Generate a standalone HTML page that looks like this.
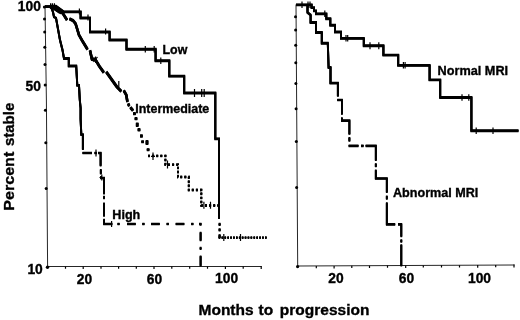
<!DOCTYPE html>
<html><head><meta charset="utf-8">
<style>
html,body{margin:0;padding:0;background:#fff;}
body{width:520px;height:320px;overflow:hidden;}
svg{display:block;filter:blur(0.35px);}
text{font-family:"Liberation Sans",Arial,Helvetica,sans-serif;font-weight:bold;fill:#000;stroke:#000;stroke-width:0.35;}
.c{fill:none;stroke:#000;stroke-width:1.95;stroke-linejoin:miter;stroke-linecap:butt;}
.ax{fill:none;stroke:#1a1a1a;stroke-width:0.95;}
.tk{fill:none;stroke:#000;stroke-width:1.2;}
</style></head><body>
<svg width="520" height="320" viewBox="0 0 520 320">
<rect width="520" height="320" fill="#fff"/>

<!-- LEFT PANEL AXES -->
<path class="ax" d="M45,6.5 L46.4,100 L47.6,266.5 L261.5,266.5"/>
<g id="lyt" fill="#000">
<ellipse cx="44.4" cy="7.0" rx="1.5" ry="1.5"/>
<ellipse cx="44.5" cy="18.9" rx="1.5" ry="1.5"/>
<ellipse cx="44.7" cy="32.1" rx="1.5" ry="1.5"/>
<ellipse cx="44.8" cy="47.2" rx="1.5" ry="1.5"/>
<ellipse cx="45.0" cy="64.6" rx="1.5" ry="1.5"/>
<ellipse cx="45.2" cy="85.1" rx="1.5" ry="1.5"/>
<ellipse cx="45.4" cy="110.3" rx="1.5" ry="1.5"/>
<ellipse cx="45.8" cy="142.7" rx="1.5" ry="1.5"/>
<ellipse cx="46.2" cy="188.4" rx="1.5" ry="1.5"/>
<circle cx="47.5" cy="267.3" r="1.7"/>
</g>
<path class="tk" d="M65.5,266.5v2.2 M83.2,266.5v2.6 M101,266.5v2.2 M118.6,266.5v2.2 M136.3,266.5v2.2 M154,266.5v2.6 M171.8,266.5v2.2 M189.7,266.5v2.2 M207.5,266.5v2.2 M225.4,266.5v2.6 M243.2,266.5v2.2 M261.2,266v3"/>

<!-- RIGHT PANEL AXES -->
<path class="ax" d="M296,4.5 L297.7,266 L514.5,265"/>
<g id="ryt" fill="#000">
<ellipse cx="295.5" cy="16.8" rx="1.5" ry="1.5"/>
<ellipse cx="295.6" cy="30.1" rx="1.5" ry="1.5"/>
<ellipse cx="295.7" cy="45.3" rx="1.5" ry="1.5"/>
<ellipse cx="295.8" cy="62.7" rx="1.5" ry="1.5"/>
<ellipse cx="295.9" cy="83.4" rx="1.5" ry="1.5"/>
<ellipse cx="296.1" cy="108.7" rx="1.5" ry="1.5"/>
<ellipse cx="296.3" cy="141.4" rx="1.5" ry="1.5"/>
<ellipse cx="296.6" cy="187.4" rx="1.5" ry="1.5"/>
<circle cx="297.6" cy="266.6" r="1.6"/>
</g>
<path class="tk" d="M316.3,266v2.2 M334.1,265.9v2.6 M351.8,265.8v2.2 M369.5,265.7v2.2 M387.5,265.6v2.2 M405.7,265.5v2.6 M423.3,265.4v2.2 M441.5,265.3v2.2 M459.5,265.2v2.2 M477.7,265.1v2.6 M495.7,265.1v2.2 M514,264.5v3"/>

<g id="cv">
<!-- LEFT CURVES -->
<!-- Low -->
<path class="c" d="M45,6.6 H56 L62,11.8 H80.6 V18 H90 V32 H109.6 V40 H126.5 V49.2 H155.6 V60.7 H169.3 V76.2 H184.2 V93 H215.3 V138.8 H219 V218.5"/>
<!-- High solid -->
<path class="c" d="M45,6.6 H51 L53,12 L54,17 L56,18 L60,40 L62.5,50 L64,58.5 H68.8 V66 H76.2 L77.3,85.4 H79 L79.8,100 L80.6,108 V119 L81.3,134.6 H82.9 V149.5"/>
<!-- High dash-dot -->
<path class="c" style="stroke-width:1.8" d="M82.5,153 H92 M94.5,153 h2.5 M98,153 H100.6 V166 M100.8,169.5 V174 M101,176.5 V178 H104 V194 M104,196.3 v2.5 M104,203 V216.2 M104.1,219.2 V224 H112.3 M117.5,224 h2.1 M127.1,224 H135.7 M142.3,224 h2.2 M151.1,224 H159.7 M166.6,224 h2.2 M175.7,224 H184.3 M191.2,224 h2.2 M199,224 H200.6 V225.2 M200.6,232.3 V240.8 M200.6,247.3 v2.2 M200.6,256 V266"/>
<!-- Intermediate -->
<path class="c" style="stroke-width:2.5;stroke-linejoin:round" d="M50.0,7.0 L55.0,7.6 L61.0,12.6 L62.0,12.0 L67.0,20.0 M69.4,18.8 L73.1,20.6 L75.6,23.8 L77.5,30.0 L79.0,35.0 L82.5,41.2 L87.5,49.4 M90.0,50.6 L92.0,59.4 L95.6,60.0 L99.4,66.3 L103.8,72.5 M106.3,72.0 L117.0,87.0 L121.3,91.3 M123.8,90.6 L126.3,95.0 L127.4,101.8 M128.2,103.8 L129.2,106 M130.4,107.4 L133.0,110.6"/>
<path d="M50,5.2 H56.3 L63.8,10.6 V13.6 L58.8,13.1 L52.5,8.8 L50,7.5 Z" fill="#000"/>
<path class="c" style="stroke-width:2.6" d="M134.4,112.5 v2.4 M136.0,117.5 v2.4 M137.2,122.9 v3.6 M139.0,128.5 v2.6 M141.4,134.7 v2.6 M142.6,140.7 v2.0 M147.0,140.5 v4.0 M148.1,148.6 v2.2"/>
<path class="c" style="stroke-dasharray:2 2.1" d="M148,155.9 H165.4 V164.6 H178 V177 H188.8 V190 H201.3 V205.5 H218.6"/>
<path class="c" d="M219.6,223.2 v2.3 M219.6,228.7 v2.3 M219.6,234.6 v3"/>
<path class="c" style="stroke-width:1.7;stroke-dasharray:1.7 1.2" d="M218.6,237.6 H266.8"/>

<!-- RIGHT CURVES -->
<!-- Normal -->
<path class="c" d="M296,4.8 H311.6 V7.6 H314 V10.8 H316 V13.8 H326.3 V18.8 H330.3 V25.3 H335 V32 H341 V38.4 H363.8 V45.7 H383.4 V55.1 H398.2 V65.4 H429.6 V79.9 H440.2 V97.5 H471.4 V130.7 H518.5"/>
<!-- Abnormal solid -->
<path class="c" d="M307.5,4.8 V12.5 L310.6,15 V22.5 H316 V32.5 H321.8 V43.2 H327.8 L328.6,67.5 H330.5 V83.1 H337.9 V96.2"/>
<!-- Abnormal dash-dot -->
<path class="c" style="stroke-width:1.8" d="M337.2,100 H341.9 V114.4 M341.9,117.8 V120.6 H349.4 V134.4 M349.4,137.5 V141.3 M348.6,145.8 H358.5 M361,145.8 h2.6 M365.6,145.8 H375.8 V160.6 M375.8,163.6 V166.9 M375.8,170 V178.5 H386.8 V192.5 M386.8,196 V199.3 M386.8,202.8 V224.4 H395.2 M398,224.4 H401.3 V236.8 M401.3,239.8 v2.4 M401.3,244.7 V266"/>

</g>
<use href="#cv" y="-0.45"/>
<use href="#cv" y="0.45"/>

<!-- censor ticks -->
<path class="tk" d="M50.6,3.2v4 M52.4,3.2v4 M54.4,3.2v4 M79.4,8.5v6 M88,14.5v6 M105.6,28.5v6 M145.3,46v6.5 M154.2,46v6.5 M160.8,57.5v6.5 M194.5,89v8 M201.7,89v8 M204.2,89v8
M93.5,57l4,5 M97.5,57l-4,5 M95.6,56.5v6.5 M118.8,81v6
M153,152.5v7.5 M151,156.3h4 M167.5,160.5v8 M203.9,201.8v7 M210.5,201.8v7
M223.8,234v7 M240.5,234v7
M96,149.5v7 M101.8,174.5v6 M99.5,177.5h5 M111.6,221v6
M302,1.5v6.5 M308,1.5v6.5 M310,1.5v6.5 M324.8,10.5v6.5 M346,35v6.5 M347.7,35v6.5 M370,42.2v7 M378.8,42.2v7 M403.4,62v6.5 M405.1,62v6.5 M462,94.2v6.5 M468.8,94.2v6.5 M476.2,127.5v6.5 M493,127.5v6.5"/>

<!-- LABELS -->
<text x="40.9" y="11.3" font-size="13.8" text-anchor="end">100</text>
<text x="40.9" y="90.7" font-size="13.8" text-anchor="end">50</text>
<text x="42.8" y="273.8" font-size="13.8" text-anchor="end">10</text>
<text x="84.4" y="284" font-size="13.8" text-anchor="middle">20</text>
<text x="154.4" y="283.6" font-size="13.8" text-anchor="middle">60</text>
<text x="226.6" y="283.4" font-size="13.8" text-anchor="middle">100</text>
<text x="336" y="283.2" font-size="13.8" text-anchor="middle">20</text>
<text x="406.5" y="283" font-size="13.8" text-anchor="middle">60</text>
<text x="479.5" y="283" font-size="13.8" text-anchor="middle">100</text>

<text x="162.5" y="53.7" font-size="12.4">Low</text>
<text x="135.3" y="112.7" font-size="12.45">Intermediate</text>
<text x="112.3" y="218.9" font-size="12.6">High</text>
<text x="437.6" y="74.6" font-size="12.7">Normal MRI</text>
<text x="393" y="196.9" font-size="12.6">Abnormal MRI</text>

<text y="315.4" font-size="15.5"><tspan x="198.5">Months</tspan> <tspan x="258.6">to</tspan> <tspan x="279.8">progression</tspan></text>
<g transform="translate(13.5,210.7) rotate(-90)" font-size="15.4"><text x="0" y="0" textLength="59" lengthAdjust="spacingAndGlyphs">Percent</text><text x="64.6" y="0" textLength="43.4" lengthAdjust="spacingAndGlyphs">stable</text></g>
</svg>
</body></html>
